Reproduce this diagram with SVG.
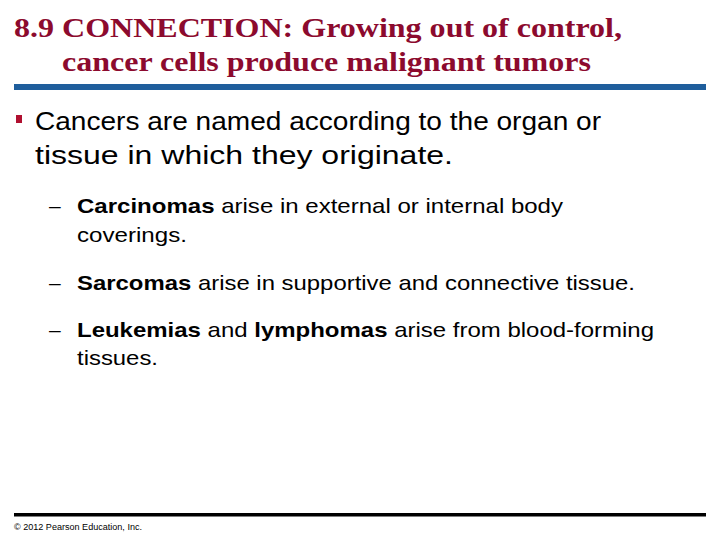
<svg xmlns="http://www.w3.org/2000/svg" width="720" height="540" viewBox="0 0 720 540">
<style>
.t{font-family:"Liberation Serif",serif;font-weight:bold;font-size:28px;fill:#8C0A2E}
.b{font-family:"Liberation Sans",Arial,sans-serif;fill:#000}
.l1{font-size:26px}.l2{font-size:21px}
</style>
<rect width="720" height="540" fill="#fff"/>
<text class="t" x="14" y="37" textLength="608" lengthAdjust="spacingAndGlyphs">8.9 CONNECTION: Growing out of control,</text>
<text class="t" x="62" y="71" textLength="529" lengthAdjust="spacingAndGlyphs">cancer cells produce malignant tumors</text>
<rect x="14" y="84" width="692" height="6" fill="#1F5E9C"/>
<rect x="16" y="115" width="6" height="8" fill="#B01030"/>
<text class="b l1" x="35" y="130" textLength="566" lengthAdjust="spacingAndGlyphs">Cancers are named according to the organ or</text>
<text class="b l1" x="35" y="164" textLength="418" lengthAdjust="spacingAndGlyphs">tissue in which they originate.</text>
<text class="b l2" x="49" y="213">–</text>
<text class="b l2" x="77" y="213" textLength="486" lengthAdjust="spacingAndGlyphs"><tspan font-weight="bold">Carcinomas</tspan> arise in external or internal body</text>
<text class="b l2" x="77" y="242" textLength="110" lengthAdjust="spacingAndGlyphs">coverings.</text>
<text class="b l2" x="49" y="290">–</text>
<text class="b l2" x="77" y="290" textLength="558" lengthAdjust="spacingAndGlyphs"><tspan font-weight="bold">Sarcomas</tspan> arise in supportive and connective tissue.</text>
<text class="b l2" x="49" y="337">–</text>
<text class="b l2" x="77" y="337" textLength="577" lengthAdjust="spacingAndGlyphs"><tspan font-weight="bold">Leukemias</tspan> and <tspan font-weight="bold">lymphomas</tspan> arise from blood-forming</text>
<text class="b l2" x="77" y="365" textLength="81" lengthAdjust="spacingAndGlyphs">tissues.</text>
<rect x="14" y="513" width="692" height="3.5" fill="#000"/>
<text class="b" x="14" y="530" font-size="8.5" textLength="128" lengthAdjust="spacingAndGlyphs">© 2012 Pearson Education, Inc.</text>
</svg>
